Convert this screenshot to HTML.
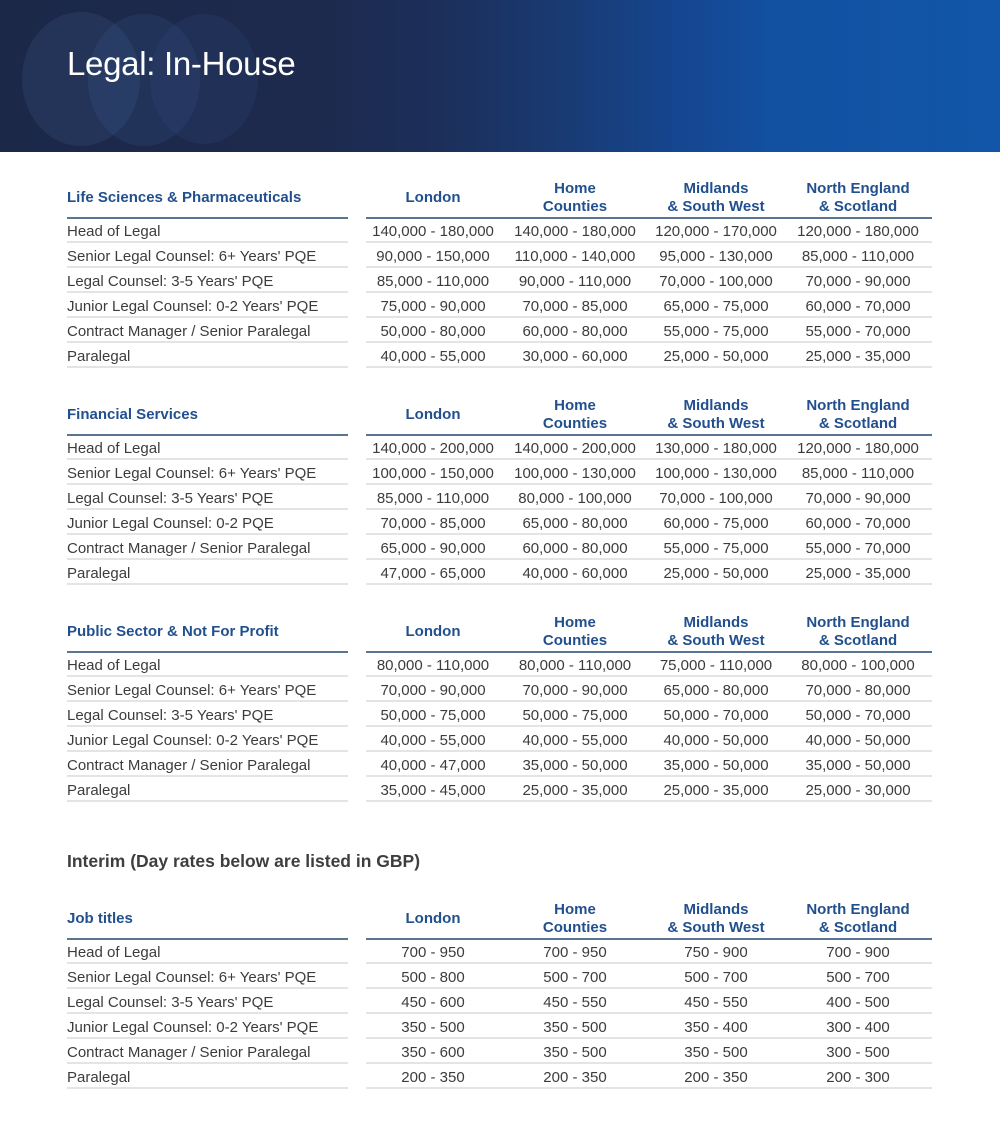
<!DOCTYPE html>
<html>
<head>
<meta charset="utf-8">
<style>
*{margin:0;padding:0;box-sizing:border-box;}
html,body{width:1000px;height:1122px;background:#fff;overflow:hidden;}
body{position:relative;font-family:"Liberation Sans",Arial,sans-serif;}
.hdr{position:absolute;left:0;top:0;width:1000px;height:152px;overflow:hidden;
background:linear-gradient(90deg,#1c2848 0%,#1d2a4e 32%,#1c2f5a 44%,#193a72 56%,#154690 68%,#1251a2 78%,#1156a8 100%);}
.ell{position:absolute;border-radius:50%;}
.title{position:absolute;left:67px;top:44px;font-size:33px;line-height:40px;color:#fff;letter-spacing:-0.3px;}
.t{position:absolute;left:0;width:1000px;height:10px;}
.lh{position:absolute;left:67px;top:-29px;height:18px;line-height:18px;font-size:15px;font-weight:bold;color:#22508e;white-space:nowrap;}
.ch{position:absolute;top:-38px;width:142px;text-align:center;font-size:15px;font-weight:bold;color:#22508e;line-height:18px;}
.ch.one{top:-29px;}
.hl{position:absolute;top:-1px;height:2px;background:#5a7594;}
.sl{position:absolute;height:2px;background:#e4e4e4;}
.r{position:absolute;left:0;width:1000px;height:18px;line-height:18px;font-size:15px;color:#3c3c3c;white-space:nowrap;}
.r span{position:absolute;top:2px;}
.r .a{left:67px;}
.r .v{width:142px;text-align:center;}
.c1{left:362px;}.c2{left:504px;}.c3{left:645px;}.c4{left:787px;}
.interim{position:absolute;left:67px;top:850px;font-size:17.5px;line-height:22px;font-weight:bold;color:#3e3e3e;white-space:nowrap;}
</style>
</head>
<body>
<div class="hdr">
  <div class="ell" style="left:22px;top:12px;width:118px;height:134px;background:rgba(70,95,145,0.22);"></div>
  <div class="ell" style="left:88px;top:14px;width:112px;height:132px;background:rgba(60,95,150,0.2);"></div>
  <div class="ell" style="left:150px;top:14px;width:108px;height:130px;background:rgba(60,95,150,0.14);"></div>
  <div class="title">Legal: In-House</div>
</div>

<!-- Table 1 -->
<div class="t" style="top:218px;">
  <div class="lh">Life Sciences &amp; Pharmaceuticals</div>
  <div class="ch one c1">London</div>
  <div class="ch c2">Home<br>Counties</div>
  <div class="ch c3">Midlands<br>&amp; South West</div>
  <div class="ch c4">North England<br>&amp; Scotland</div>
  <div class="hl" style="left:67px;width:281px;"></div>
  <div class="hl" style="left:366px;width:566px;"></div>
  <div class="r" style="top:3px;"><span class="a">Head of Legal</span><span class="v c1">140,000 - 180,000</span><span class="v c2">140,000 - 180,000</span><span class="v c3">120,000 - 170,000</span><span class="v c4">120,000 - 180,000</span></div>
  <div class="r" style="top:28px;"><span class="a">Senior Legal Counsel: 6+ Years' PQE</span><span class="v c1">90,000 - 150,000</span><span class="v c2">110,000 - 140,000</span><span class="v c3">95,000 - 130,000</span><span class="v c4">85,000 - 110,000</span></div>
  <div class="r" style="top:53px;"><span class="a">Legal Counsel: 3-5 Years' PQE</span><span class="v c1">85,000 - 110,000</span><span class="v c2">90,000 - 110,000</span><span class="v c3">70,000 - 100,000</span><span class="v c4">70,000 - 90,000</span></div>
  <div class="r" style="top:78px;"><span class="a">Junior Legal Counsel: 0-2 Years' PQE</span><span class="v c1">75,000 - 90,000</span><span class="v c2">70,000 - 85,000</span><span class="v c3">65,000 - 75,000</span><span class="v c4">60,000 - 70,000</span></div>
  <div class="r" style="top:103px;"><span class="a">Contract Manager / Senior Paralegal</span><span class="v c1">50,000 - 80,000</span><span class="v c2">60,000 - 80,000</span><span class="v c3">55,000 - 75,000</span><span class="v c4">55,000 - 70,000</span></div>
  <div class="r" style="top:128px;"><span class="a">Paralegal</span><span class="v c1">40,000 - 55,000</span><span class="v c2">30,000 - 60,000</span><span class="v c3">25,000 - 50,000</span><span class="v c4">25,000 - 35,000</span></div>
  <div class="sl" style="top:23px;left:67px;width:281px;"></div><div class="sl" style="top:23px;left:366px;width:566px;"></div>
  <div class="sl" style="top:48px;left:67px;width:281px;"></div><div class="sl" style="top:48px;left:366px;width:566px;"></div>
  <div class="sl" style="top:73px;left:67px;width:281px;"></div><div class="sl" style="top:73px;left:366px;width:566px;"></div>
  <div class="sl" style="top:98px;left:67px;width:281px;"></div><div class="sl" style="top:98px;left:366px;width:566px;"></div>
  <div class="sl" style="top:123px;left:67px;width:281px;"></div><div class="sl" style="top:123px;left:366px;width:566px;"></div>
  <div class="sl" style="top:148px;left:67px;width:281px;"></div><div class="sl" style="top:148px;left:366px;width:566px;"></div>
</div>

<!-- Table 2 -->
<div class="t" style="top:435px;">
  <div class="lh">Financial Services</div>
  <div class="ch one c1">London</div>
  <div class="ch c2">Home<br>Counties</div>
  <div class="ch c3">Midlands<br>&amp; South West</div>
  <div class="ch c4">North England<br>&amp; Scotland</div>
  <div class="hl" style="left:67px;width:281px;"></div>
  <div class="hl" style="left:366px;width:566px;"></div>
  <div class="r" style="top:3px;"><span class="a">Head of Legal</span><span class="v c1">140,000 - 200,000</span><span class="v c2">140,000 - 200,000</span><span class="v c3">130,000 - 180,000</span><span class="v c4">120,000 - 180,000</span></div>
  <div class="r" style="top:28px;"><span class="a">Senior Legal Counsel: 6+ Years' PQE</span><span class="v c1">100,000 - 150,000</span><span class="v c2">100,000 - 130,000</span><span class="v c3">100,000 - 130,000</span><span class="v c4">85,000 - 110,000</span></div>
  <div class="r" style="top:53px;"><span class="a">Legal Counsel: 3-5 Years' PQE</span><span class="v c1">85,000 - 110,000</span><span class="v c2">80,000 - 100,000</span><span class="v c3">70,000 - 100,000</span><span class="v c4">70,000 - 90,000</span></div>
  <div class="r" style="top:78px;"><span class="a">Junior Legal Counsel: 0-2 PQE</span><span class="v c1">70,000 - 85,000</span><span class="v c2">65,000 - 80,000</span><span class="v c3">60,000 - 75,000</span><span class="v c4">60,000 - 70,000</span></div>
  <div class="r" style="top:103px;"><span class="a">Contract Manager / Senior Paralegal</span><span class="v c1">65,000 - 90,000</span><span class="v c2">60,000 - 80,000</span><span class="v c3">55,000 - 75,000</span><span class="v c4">55,000 - 70,000</span></div>
  <div class="r" style="top:128px;"><span class="a">Paralegal</span><span class="v c1">47,000 - 65,000</span><span class="v c2">40,000 - 60,000</span><span class="v c3">25,000 - 50,000</span><span class="v c4">25,000 - 35,000</span></div>
  <div class="sl" style="top:23px;left:67px;width:281px;"></div><div class="sl" style="top:23px;left:366px;width:566px;"></div>
  <div class="sl" style="top:48px;left:67px;width:281px;"></div><div class="sl" style="top:48px;left:366px;width:566px;"></div>
  <div class="sl" style="top:73px;left:67px;width:281px;"></div><div class="sl" style="top:73px;left:366px;width:566px;"></div>
  <div class="sl" style="top:98px;left:67px;width:281px;"></div><div class="sl" style="top:98px;left:366px;width:566px;"></div>
  <div class="sl" style="top:123px;left:67px;width:281px;"></div><div class="sl" style="top:123px;left:366px;width:566px;"></div>
  <div class="sl" style="top:148px;left:67px;width:281px;"></div><div class="sl" style="top:148px;left:366px;width:566px;"></div>
</div>

<!-- Table 3 -->
<div class="t" style="top:652px;">
  <div class="lh">Public Sector &amp; Not For Profit</div>
  <div class="ch one c1">London</div>
  <div class="ch c2">Home<br>Counties</div>
  <div class="ch c3">Midlands<br>&amp; South West</div>
  <div class="ch c4">North England<br>&amp; Scotland</div>
  <div class="hl" style="left:67px;width:281px;"></div>
  <div class="hl" style="left:366px;width:566px;"></div>
  <div class="r" style="top:3px;"><span class="a">Head of Legal</span><span class="v c1">80,000 - 110,000</span><span class="v c2">80,000 - 110,000</span><span class="v c3">75,000 - 110,000</span><span class="v c4">80,000 - 100,000</span></div>
  <div class="r" style="top:28px;"><span class="a">Senior Legal Counsel: 6+ Years' PQE</span><span class="v c1">70,000 - 90,000</span><span class="v c2">70,000 - 90,000</span><span class="v c3">65,000 - 80,000</span><span class="v c4">70,000 - 80,000</span></div>
  <div class="r" style="top:53px;"><span class="a">Legal Counsel: 3-5 Years' PQE</span><span class="v c1">50,000 - 75,000</span><span class="v c2">50,000 - 75,000</span><span class="v c3">50,000 - 70,000</span><span class="v c4">50,000 - 70,000</span></div>
  <div class="r" style="top:78px;"><span class="a">Junior Legal Counsel: 0-2 Years' PQE</span><span class="v c1">40,000 - 55,000</span><span class="v c2">40,000 - 55,000</span><span class="v c3">40,000 - 50,000</span><span class="v c4">40,000 - 50,000</span></div>
  <div class="r" style="top:103px;"><span class="a">Contract Manager / Senior Paralegal</span><span class="v c1">40,000 - 47,000</span><span class="v c2">35,000 - 50,000</span><span class="v c3">35,000 - 50,000</span><span class="v c4">35,000 - 50,000</span></div>
  <div class="r" style="top:128px;"><span class="a">Paralegal</span><span class="v c1">35,000 - 45,000</span><span class="v c2">25,000 - 35,000</span><span class="v c3">25,000 - 35,000</span><span class="v c4">25,000 - 30,000</span></div>
  <div class="sl" style="top:23px;left:67px;width:281px;"></div><div class="sl" style="top:23px;left:366px;width:566px;"></div>
  <div class="sl" style="top:48px;left:67px;width:281px;"></div><div class="sl" style="top:48px;left:366px;width:566px;"></div>
  <div class="sl" style="top:73px;left:67px;width:281px;"></div><div class="sl" style="top:73px;left:366px;width:566px;"></div>
  <div class="sl" style="top:98px;left:67px;width:281px;"></div><div class="sl" style="top:98px;left:366px;width:566px;"></div>
  <div class="sl" style="top:123px;left:67px;width:281px;"></div><div class="sl" style="top:123px;left:366px;width:566px;"></div>
  <div class="sl" style="top:148px;left:67px;width:281px;"></div><div class="sl" style="top:148px;left:366px;width:566px;"></div>
</div>

<div class="interim">Interim (Day rates below are listed in GBP)</div>

<!-- Table 4 -->
<div class="t" style="top:939px;">
  <div class="lh">Job titles</div>
  <div class="ch one c1">London</div>
  <div class="ch c2">Home<br>Counties</div>
  <div class="ch c3">Midlands<br>&amp; South West</div>
  <div class="ch c4">North England<br>&amp; Scotland</div>
  <div class="hl" style="left:67px;width:281px;"></div>
  <div class="hl" style="left:366px;width:566px;"></div>
  <div class="r" style="top:3px;"><span class="a">Head of Legal</span><span class="v c1">700 - 950</span><span class="v c2">700 - 950</span><span class="v c3">750 - 900</span><span class="v c4">700 - 900</span></div>
  <div class="r" style="top:28px;"><span class="a">Senior Legal Counsel: 6+ Years' PQE</span><span class="v c1">500 - 800</span><span class="v c2">500 - 700</span><span class="v c3">500 - 700</span><span class="v c4">500 - 700</span></div>
  <div class="r" style="top:53px;"><span class="a">Legal Counsel: 3-5 Years' PQE</span><span class="v c1">450 - 600</span><span class="v c2">450 - 550</span><span class="v c3">450 - 550</span><span class="v c4">400 - 500</span></div>
  <div class="r" style="top:78px;"><span class="a">Junior Legal Counsel: 0-2 Years' PQE</span><span class="v c1">350 - 500</span><span class="v c2">350 - 500</span><span class="v c3">350 - 400</span><span class="v c4">300 - 400</span></div>
  <div class="r" style="top:103px;"><span class="a">Contract Manager / Senior Paralegal</span><span class="v c1">350 - 600</span><span class="v c2">350 - 500</span><span class="v c3">350 - 500</span><span class="v c4">300 - 500</span></div>
  <div class="r" style="top:128px;"><span class="a">Paralegal</span><span class="v c1">200 - 350</span><span class="v c2">200 - 350</span><span class="v c3">200 - 350</span><span class="v c4">200 - 300</span></div>
  <div class="sl" style="top:23px;left:67px;width:281px;"></div><div class="sl" style="top:23px;left:366px;width:566px;"></div>
  <div class="sl" style="top:48px;left:67px;width:281px;"></div><div class="sl" style="top:48px;left:366px;width:566px;"></div>
  <div class="sl" style="top:73px;left:67px;width:281px;"></div><div class="sl" style="top:73px;left:366px;width:566px;"></div>
  <div class="sl" style="top:98px;left:67px;width:281px;"></div><div class="sl" style="top:98px;left:366px;width:566px;"></div>
  <div class="sl" style="top:123px;left:67px;width:281px;"></div><div class="sl" style="top:123px;left:366px;width:566px;"></div>
  <div class="sl" style="top:148px;left:67px;width:281px;"></div><div class="sl" style="top:148px;left:366px;width:566px;"></div>
</div>
</body>
</html>
